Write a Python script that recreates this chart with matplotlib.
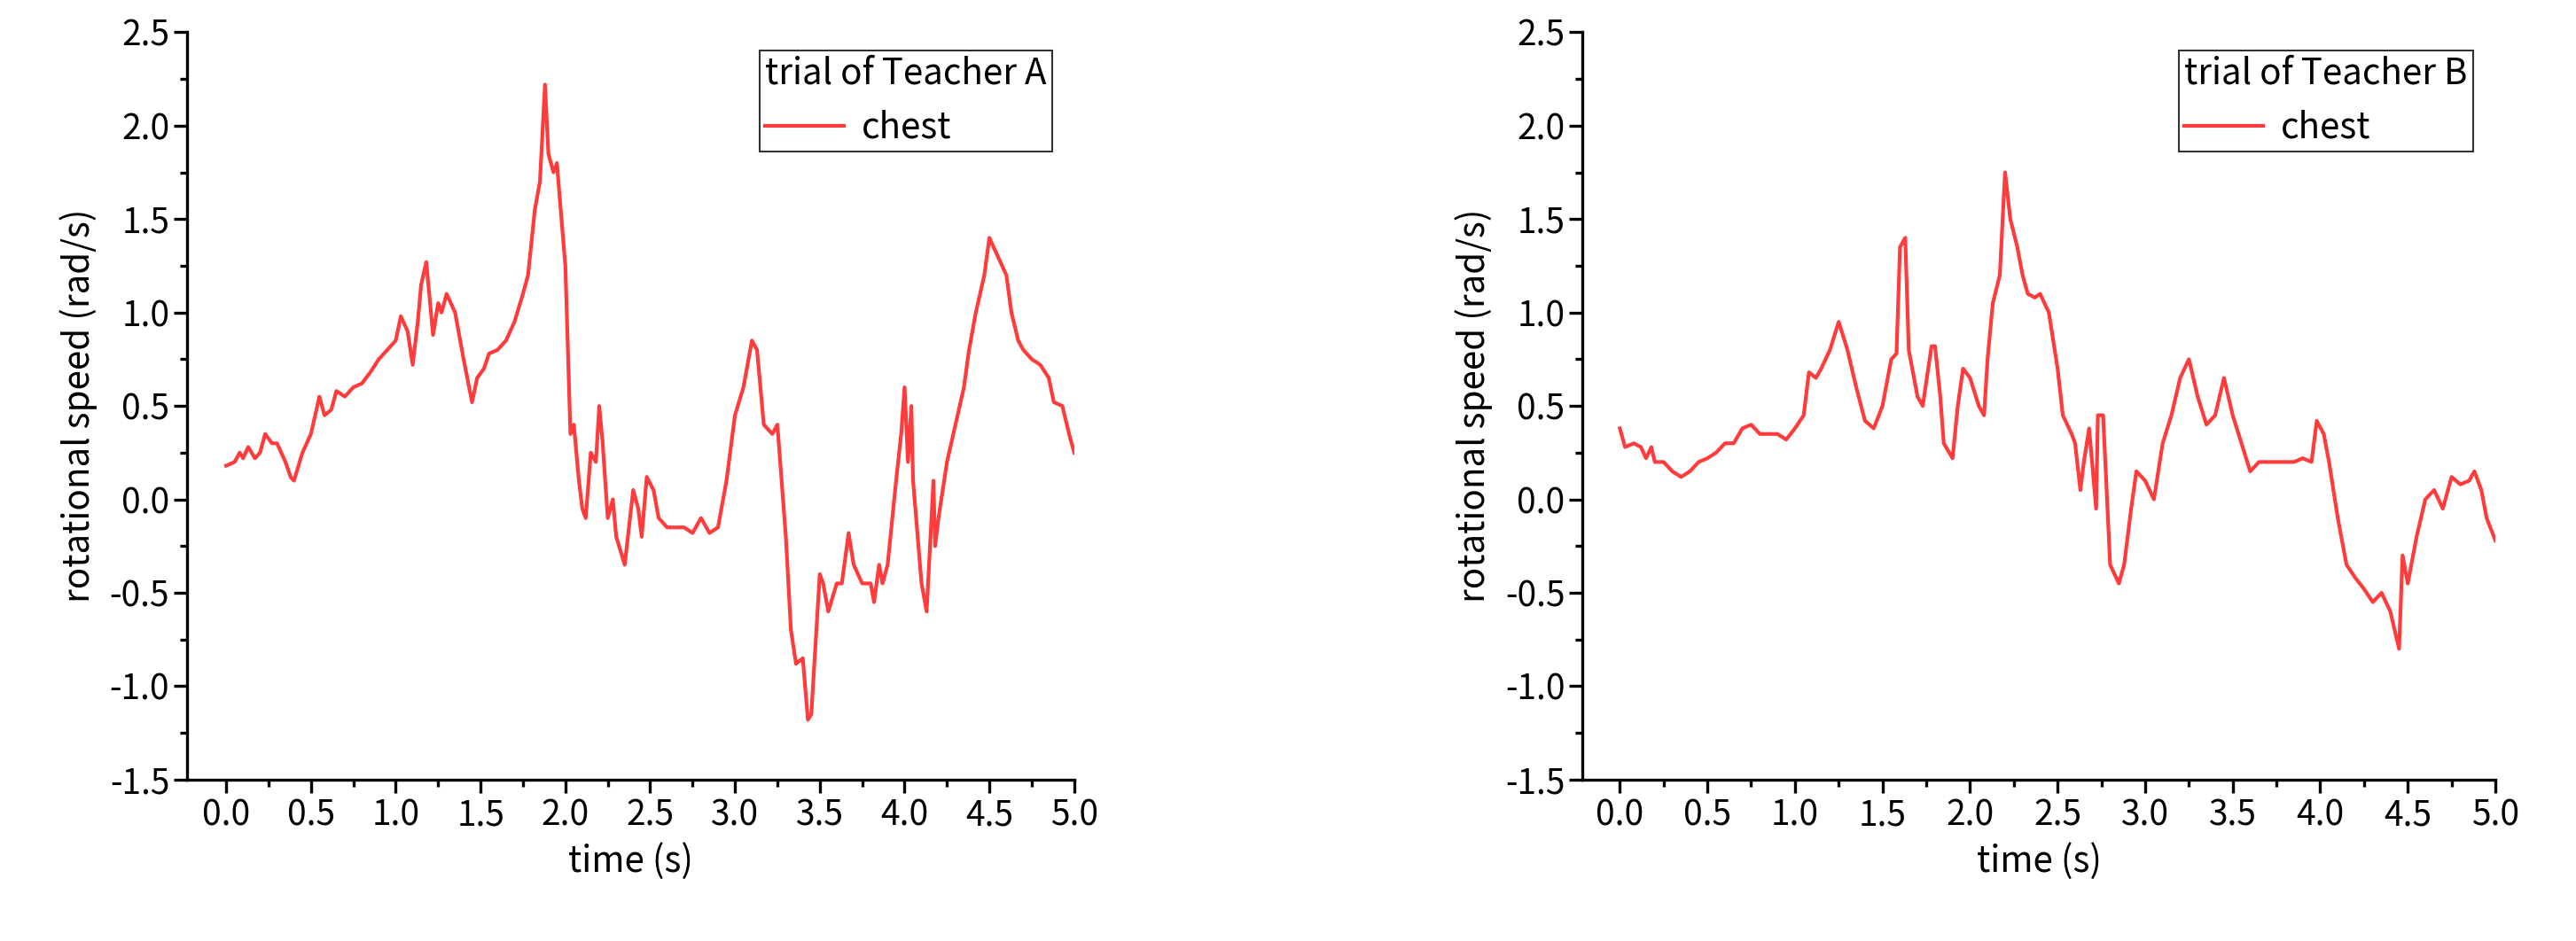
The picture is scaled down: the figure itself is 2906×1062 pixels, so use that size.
import matplotlib
matplotlib.use("Agg")
import matplotlib.pyplot as plt
from matplotlib.ticker import MultipleLocator, FormatStrFormatter

plt.rcParams['font.family'] = ['Noto Sans CJK JP', 'DejaVu Sans']
plt.rcParams['axes.unicode_minus'] = False

t_a = [0.0,0.05,0.08,0.1,0.13,0.17,0.2,0.23,0.27,0.3,0.35,0.38,0.4,0.45,0.5,0.55,0.58,0.62,0.65,0.7,0.75,0.8,0.85,0.9,0.95,1.0,1.03,1.07,1.1,1.13,1.15,1.18,1.22,1.25,1.27,1.3,1.35,1.4,1.45,1.48,1.52,1.55,1.6,1.65,1.7,1.75,1.78,1.82,1.85,1.88,1.9,1.93,1.95,2.0,2.03,2.05,2.08,2.1,2.12,2.15,2.18,2.2,2.22,2.25,2.28,2.3,2.35,2.4,2.43,2.45,2.48,2.52,2.55,2.6,2.7,2.75,2.8,2.85,2.9,2.95,3.0,3.05,3.1,3.13,3.17,3.22,3.25,3.3,3.33,3.36,3.4,3.43,3.45,3.5,3.52,3.55,3.6,3.63,3.67,3.7,3.75,3.8,3.82,3.85,3.87,3.9,3.95,3.98,4.0,4.02,4.04,4.05,4.1,4.13,4.17,4.18,4.2,4.25,4.3,4.35,4.38,4.42,4.47,4.5,4.55,4.6,4.63,4.67,4.7,4.75,4.8,4.85,4.88,4.93,4.97,5.0]
v_a = [0.18,0.2,0.25,0.22,0.28,0.22,0.25,0.35,0.3,0.3,0.2,0.12,0.1,0.25,0.35,0.55,0.45,0.48,0.58,0.55,0.6,0.62,0.68,0.75,0.8,0.85,0.98,0.9,0.72,0.95,1.15,1.27,0.88,1.05,1.0,1.1,1.0,0.75,0.52,0.65,0.7,0.78,0.8,0.85,0.95,1.1,1.2,1.55,1.7,2.22,1.85,1.75,1.8,1.25,0.35,0.4,0.1,-0.05,-0.1,0.25,0.2,0.5,0.3,-0.1,0.0,-0.2,-0.35,0.05,-0.05,-0.2,0.12,0.05,-0.1,-0.15,-0.15,-0.18,-0.1,-0.18,-0.15,0.1,0.45,0.6,0.85,0.8,0.4,0.35,0.4,-0.2,-0.7,-0.88,-0.85,-1.18,-1.15,-0.4,-0.45,-0.6,-0.45,-0.45,-0.18,-0.35,-0.45,-0.45,-0.55,-0.35,-0.45,-0.35,0.1,0.35,0.6,0.2,0.5,0.1,-0.45,-0.6,0.1,-0.25,-0.1,0.2,0.4,0.6,0.8,1.0,1.2,1.4,1.3,1.2,1.0,0.85,0.8,0.75,0.72,0.65,0.52,0.5,0.35,0.25]

t_b = [0.0,0.03,0.08,0.12,0.15,0.18,0.2,0.25,0.3,0.35,0.4,0.45,0.5,0.55,0.6,0.65,0.7,0.75,0.8,0.85,0.9,0.95,1.0,1.05,1.08,1.12,1.15,1.2,1.25,1.3,1.35,1.4,1.45,1.5,1.55,1.58,1.6,1.63,1.65,1.7,1.73,1.78,1.8,1.83,1.85,1.9,1.93,1.96,2.0,2.05,2.08,2.1,2.13,2.17,2.2,2.23,2.27,2.3,2.33,2.37,2.4,2.45,2.5,2.53,2.58,2.6,2.63,2.65,2.68,2.72,2.73,2.76,2.8,2.85,2.88,2.92,2.95,3.0,3.05,3.1,3.15,3.2,3.25,3.3,3.35,3.4,3.45,3.5,3.55,3.6,3.65,3.7,3.8,3.85,3.9,3.95,3.98,4.02,4.05,4.1,4.15,4.2,4.25,4.3,4.35,4.4,4.45,4.47,4.5,4.55,4.6,4.65,4.7,4.75,4.8,4.85,4.88,4.92,4.95,5.0]
v_b = [0.38,0.28,0.3,0.28,0.22,0.28,0.2,0.2,0.15,0.12,0.15,0.2,0.22,0.25,0.3,0.3,0.38,0.4,0.35,0.35,0.35,0.32,0.38,0.45,0.68,0.65,0.7,0.8,0.95,0.8,0.6,0.42,0.38,0.5,0.75,0.78,1.35,1.4,0.8,0.55,0.5,0.82,0.82,0.55,0.3,0.22,0.5,0.7,0.65,0.5,0.45,0.75,1.05,1.2,1.75,1.5,1.35,1.2,1.1,1.08,1.1,1.0,0.7,0.45,0.35,0.3,0.05,0.2,0.38,-0.05,0.45,0.45,-0.35,-0.45,-0.35,-0.05,0.15,0.1,0.0,0.3,0.45,0.65,0.75,0.55,0.4,0.45,0.65,0.45,0.3,0.15,0.2,0.2,0.2,0.2,0.22,0.2,0.42,0.35,0.2,-0.1,-0.35,-0.42,-0.48,-0.55,-0.5,-0.6,-0.8,-0.3,-0.45,-0.2,0.0,0.05,-0.05,0.12,0.08,0.1,0.15,0.05,-0.1,-0.22]

series = [(t_a, v_a, "trial of Teacher A"), (t_b, v_b, "trial of Teacher B")]
rects = [[0.0727, 0.1715, 0.3443, 0.7942], [0.6144, 0.1715, 0.3543, 0.7942]]
xoff = [0.229, 0.212]

fig = plt.figure(figsize=(29.06, 10.62), dpi=100)
for (t, v, title), r, xo in zip(series, rects, xoff):
    ax = fig.add_axes(r)
    ax.plot(t, v, color='#ff3b3b', lw=3.0, label='chest')
    ax.set_xlim(-xo, 5.0)
    ax.set_ylim(-1.5, 2.5)
    ax.xaxis.set_major_locator(MultipleLocator(0.5))
    ax.xaxis.set_minor_locator(MultipleLocator(0.25))
    ax.yaxis.set_major_locator(MultipleLocator(0.5))
    ax.yaxis.set_minor_locator(MultipleLocator(0.25))
    ax.xaxis.set_major_formatter(FormatStrFormatter('%.1f'))
    ax.yaxis.set_major_formatter(FormatStrFormatter('%.1f'))
    for s in ['top', 'right']:
        ax.spines[s].set_visible(False)
    for s in ['left', 'bottom']:
        ax.spines[s].set_linewidth(2.4)
    ax.tick_params(which='major', length=11, width=2.4, labelsize=28, direction='out')
    ax.tick_params(which='minor', length=6, width=2.4, direction='out')
    ax.set_xlabel('time (s)', fontsize=29, labelpad=8)
    ax.set_ylabel('rotational speed (rad/s)', fontsize=29, labelpad=10)
    leg = ax.legend(title=title, loc='upper right', fontsize=29, title_fontsize=29,
                    frameon=True, fancybox=False, edgecolor='black', handlelength=2.2,
                    borderpad=0.15, handletextpad=0.5, bbox_to_anchor=(0.995, 1.0))
    leg.get_frame().set_linewidth(1.5)
    leg._legend_box.align = 'left'
fig.savefig('out.png', dpi=100)
